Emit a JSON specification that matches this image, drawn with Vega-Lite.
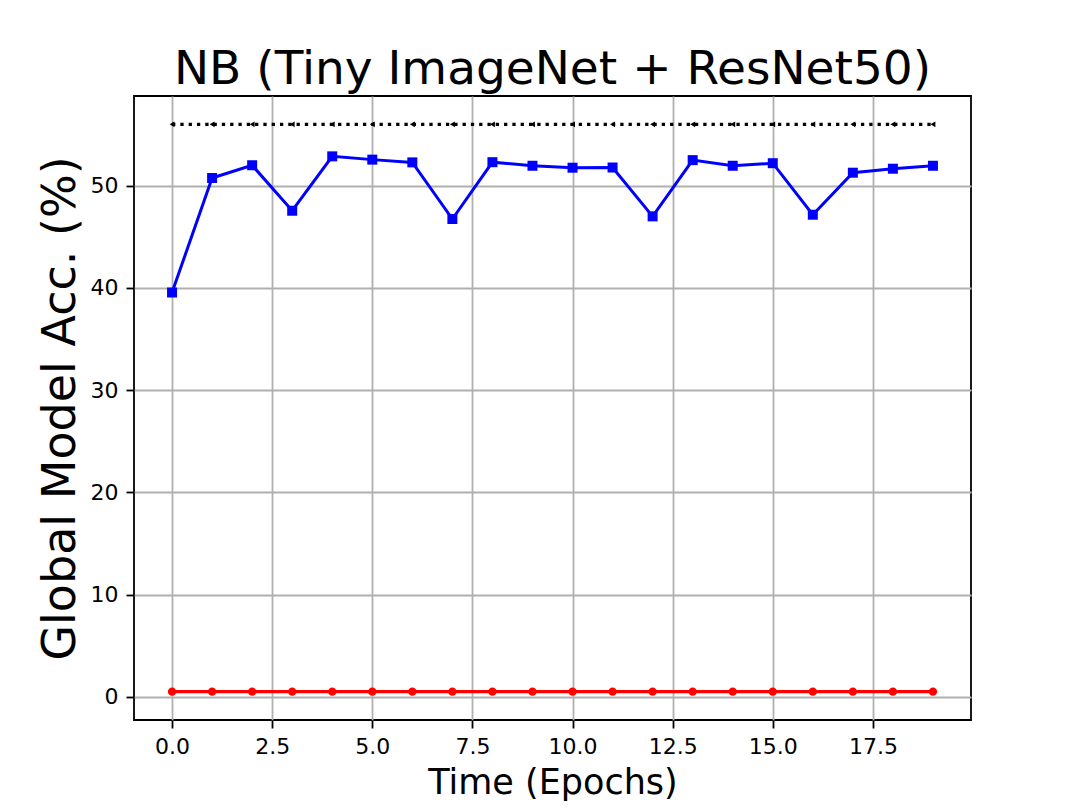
{
  "$schema": "https://vega.github.io/schema/vega-lite/v6.json",
  "width": 837,
  "height": 624,
  "autosize": "none",
  "padding": {"left": 134, "top": 96, "right": 108, "bottom": 89},
  "background": "white",
  "title": {"text": "NB (Tiny ImageNet + ResNet50)", "font": "DejaVu Sans", "fontSize": 47, "fontWeight": "normal", "color": "black", "anchor": "middle", "offset": 2},
  "config": {
    "view": {"stroke": "black", "strokeWidth": 1.8},
    "axis": {
      "grid": true, "gridColor": "#b0b0b0", "gridWidth": 1.8, "gridOpacity": 1,
      "domain": false, "tickColor": "black", "tickSize": 8, "tickWidth": 1.8,
      "labelFont": "DejaVu Sans", "labelFontSize": 22, "labelColor": "black", "labelPadding": 8,
      "titleFont": "DejaVu Sans", "titleFontWeight": "normal", "titleColor": "black"
    }
  },
  "datasets": {
    "nb": [
      {"epoch": 0, "acc": 39.55}, {"epoch": 1, "acc": 50.75}, {"epoch": 2, "acc": 52.0}, {"epoch": 3, "acc": 47.55},
      {"epoch": 4, "acc": 52.87}, {"epoch": 5, "acc": 52.55}, {"epoch": 6, "acc": 52.28}, {"epoch": 7, "acc": 46.74},
      {"epoch": 8, "acc": 52.3}, {"epoch": 9, "acc": 51.95}, {"epoch": 10, "acc": 51.76}, {"epoch": 11, "acc": 51.78},
      {"epoch": 12, "acc": 47.0}, {"epoch": 13, "acc": 52.5}, {"epoch": 14, "acc": 51.95}, {"epoch": 15, "acc": 52.2},
      {"epoch": 16, "acc": 47.16}, {"epoch": 17, "acc": 51.27}, {"epoch": 18, "acc": 51.66}, {"epoch": 19, "acc": 51.95}
    ],
    "low": [
      {"epoch": 0, "acc": 0.5}, {"epoch": 1, "acc": 0.5}, {"epoch": 2, "acc": 0.5}, {"epoch": 3, "acc": 0.5},
      {"epoch": 4, "acc": 0.5}, {"epoch": 5, "acc": 0.5}, {"epoch": 6, "acc": 0.5}, {"epoch": 7, "acc": 0.5},
      {"epoch": 8, "acc": 0.5}, {"epoch": 9, "acc": 0.5}, {"epoch": 10, "acc": 0.5}, {"epoch": 11, "acc": 0.5},
      {"epoch": 12, "acc": 0.5}, {"epoch": 13, "acc": 0.5}, {"epoch": 14, "acc": 0.5}, {"epoch": 15, "acc": 0.5},
      {"epoch": 16, "acc": 0.5}, {"epoch": 17, "acc": 0.5}, {"epoch": 18, "acc": 0.5}, {"epoch": 19, "acc": 0.5}
    ],
    "ref": [
      {"epoch": 0, "acc": 56.0}, {"epoch": 1, "acc": 56.0}, {"epoch": 2, "acc": 56.0}, {"epoch": 3, "acc": 56.0},
      {"epoch": 4, "acc": 56.0}, {"epoch": 5, "acc": 56.0}, {"epoch": 6, "acc": 56.0}, {"epoch": 7, "acc": 56.0},
      {"epoch": 8, "acc": 56.0}, {"epoch": 9, "acc": 56.0}, {"epoch": 10, "acc": 56.0}, {"epoch": 11, "acc": 56.0},
      {"epoch": 12, "acc": 56.0}, {"epoch": 13, "acc": 56.0}, {"epoch": 14, "acc": 56.0}, {"epoch": 15, "acc": 56.0},
      {"epoch": 16, "acc": 56.0}, {"epoch": 17, "acc": 56.0}, {"epoch": 18, "acc": 56.0}, {"epoch": 19, "acc": 56.0}
    ]
  },
  "encoding": {
    "x": {"field": "epoch", "type": "quantitative",
          "scale": {"domain": [-0.95, 19.95], "nice": false, "zero": false},
          "axis": {"values": [0, 2.5, 5, 7.5, 10, 12.5, 15, 17.5], "format": ".1f", "title": "Time (Epochs)", "titleFontSize": 35, "titlePadding": 8}},
    "y": {"field": "acc", "type": "quantitative",
          "scale": {"domain": [-2.275, 58.775], "nice": false, "zero": false},
          "axis": {"values": [0, 10, 20, 30, 40, 50], "title": "Global Model Acc. (%)", "titleFontSize": 46, "titlePadding": 6}}
  },
  "layer": [
    {"data": {"name": "ref"}, "mark": {"type": "line", "color": "black", "strokeWidth": 3.3, "strokeDash": [3.3, 5]}},
    {"data": {"name": "ref"}, "mark": {"type": "point", "shape": "triangle-left", "filled": true, "color": "black", "size": 32, "opacity": 1}},
    {"data": {"name": "nb"}, "mark": {"type": "line", "color": "#0000ff", "strokeWidth": 3}},
    {"data": {"name": "nb"}, "mark": {"type": "point", "shape": "square", "filled": true, "color": "#0000ff", "size": 100, "opacity": 1}},
    {"data": {"name": "low"}, "mark": {"type": "line", "color": "#ff0000", "strokeWidth": 3.2}},
    {"data": {"name": "low"}, "mark": {"type": "point", "shape": "circle", "filled": true, "color": "#ff0000", "size": 70, "opacity": 1}}
  ]
}
